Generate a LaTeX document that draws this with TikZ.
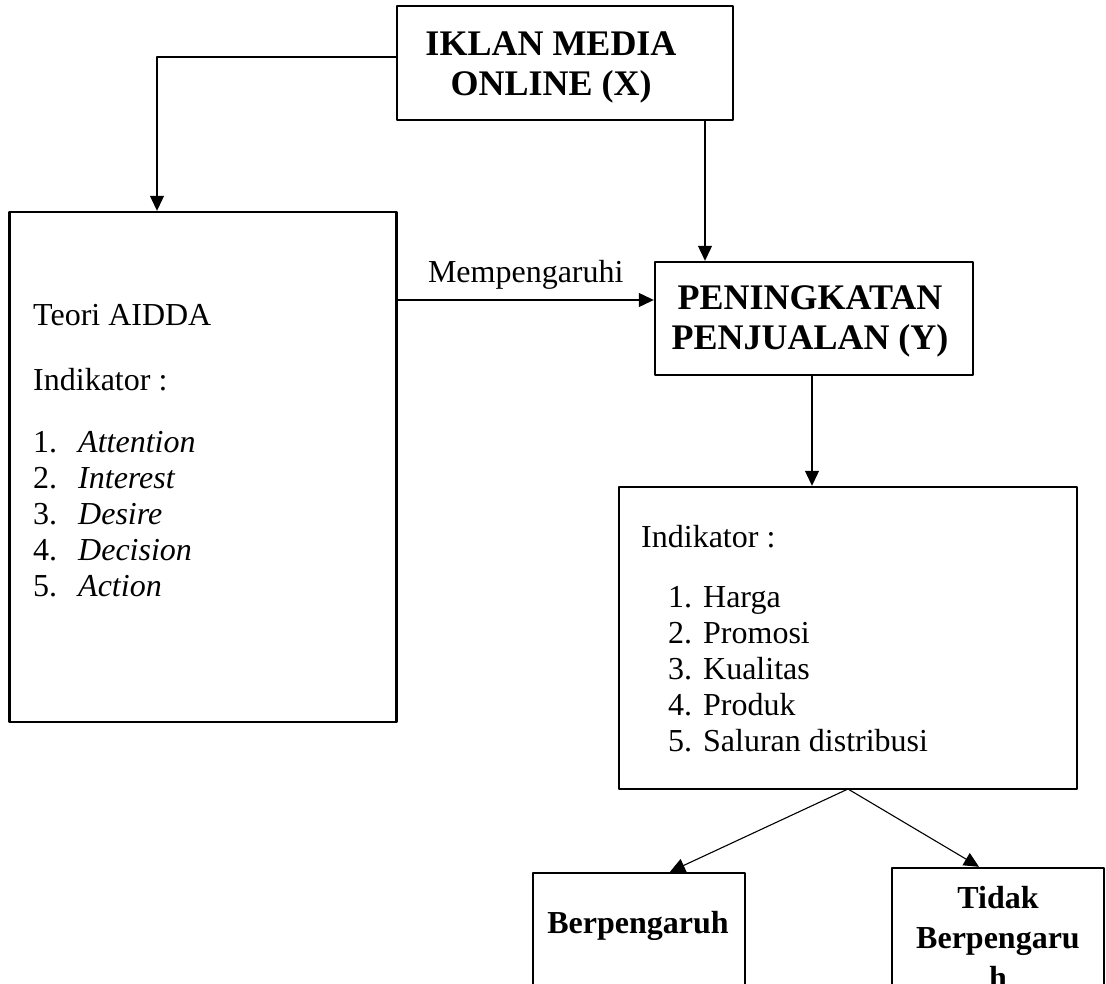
\documentclass[tikz,border=0pt]{standalone}
\usepackage{fontspec}
\setmainfont{Liberation Serif}
\usetikzlibrary{arrows.meta,positioning}
\newcommand{\bigtext}{\fontsize{32}{36}\selectfont}
\newcommand{\headtext}{\fontsize{36}{40}\selectfont}
\begin{document}
\begin{tikzpicture}[x=1pt,y=-1pt,line join=round,>={Triangle[length=15pt,width=14pt]},
	box/.style={draw,line width=2.4pt,inner sep=0pt},
	conn/.style={line width=1.1pt},
	txt/.style={font=\bigtext,inner sep=0pt},
	head/.style={font=\headtext\bfseries,align=center,inner sep=0pt},
	smallhead/.style={font=\fontsize{32}{40}\selectfont\bfseries,align=center,inner sep=0pt}]
	\useasboundingbox (0,0) rectangle (1106,984);
	\clip (0,0) rectangle (1106,984);
	% kotak
	\node[box,minimum width=336pt,minimum height=114pt] (iklan) at (565,63) {};
	\node[box,minimum width=387pt,minimum height=510pt] (aidda) at (203,467) {};
	\node[box,minimum width=318pt,minimum height=113pt] (jual) at (814,318.5) {};
	\node[box,minimum width=458pt,minimum height=302pt] (indy) at (848,638) {};
	\node[box,minimum width=212pt,minimum height=200pt] (berp) at (639,973) {};
	\node[box,minimum width=212pt,minimum height=200pt] (tidak) at (998,968) {};
	% teks
	\node[head] (iklantxt) at (551,67) {IKLAN MEDIA\\ONLINE (X)};
	\node[head] (jualtxt) at (810,321) {PENINGKATAN\\PENJUALAN (Y)};
	\node[smallhead] (berptxt) at (638,926) {Berpengaruh};
	\node[smallhead,anchor=north] (tidaktxt) at (998,886) {Tidak\\Berpengaru\\h};
	\node[txt,anchor=base west] (teori) at (33,326) {Teori AIDDA};
	\node[txt,anchor=base west] (indik1) at (33,390) {Indikator :};
	\node[txt,anchor=base west] (list1) at (33,452) {%
		\begin{tabular}[t]{@{}p{45pt}@{}l@{}}
			1. & \textit{Attention}\\
			2. & \textit{Interest}\\
			3. & \textit{Desire}\\
			4. & \textit{Decision}\\
			5. & \textit{Action}
		\end{tabular}};
	\node[txt,anchor=base west] (indik2) at (641,547) {Indikator :};
	\node[txt,anchor=base west] (list2) at (668,607) {%
		\begin{tabular}[t]{@{}p{35pt}@{}l@{}}
			1. & Harga\\
			2. & Promosi\\
			3. & Kualitas\\
			4. & Produk\\
			5. & Saluran distribusi
		\end{tabular}};
	% titik sambung
	\path
	(157,57) coordinate (belok)
	(705,120) coordinate (iklanbawah)
	(848,789) coordinate (cabang);
	\draw[conn,->] (iklan.west |- belok) -- (belok) -- (belok |- aidda.north);
	\draw[conn,->] (iklanbawah) -- (iklanbawah |- jual.north);
	\draw[conn,->] (aidda.east |- 0,300) -- node[txt,above=10pt] (pengaruh) {Mempengaruhi} (jual.west |- 0,300);
	\draw[conn,->] (jual.south -| 812,0) -- (indy.north -| 812,0);
	\draw[conn,->] (cabang) -- (berp.north -| 670,0);
	\draw[conn,->] (cabang) -- (tidak.north -| 979,0);
\end{tikzpicture}
\end{document}
